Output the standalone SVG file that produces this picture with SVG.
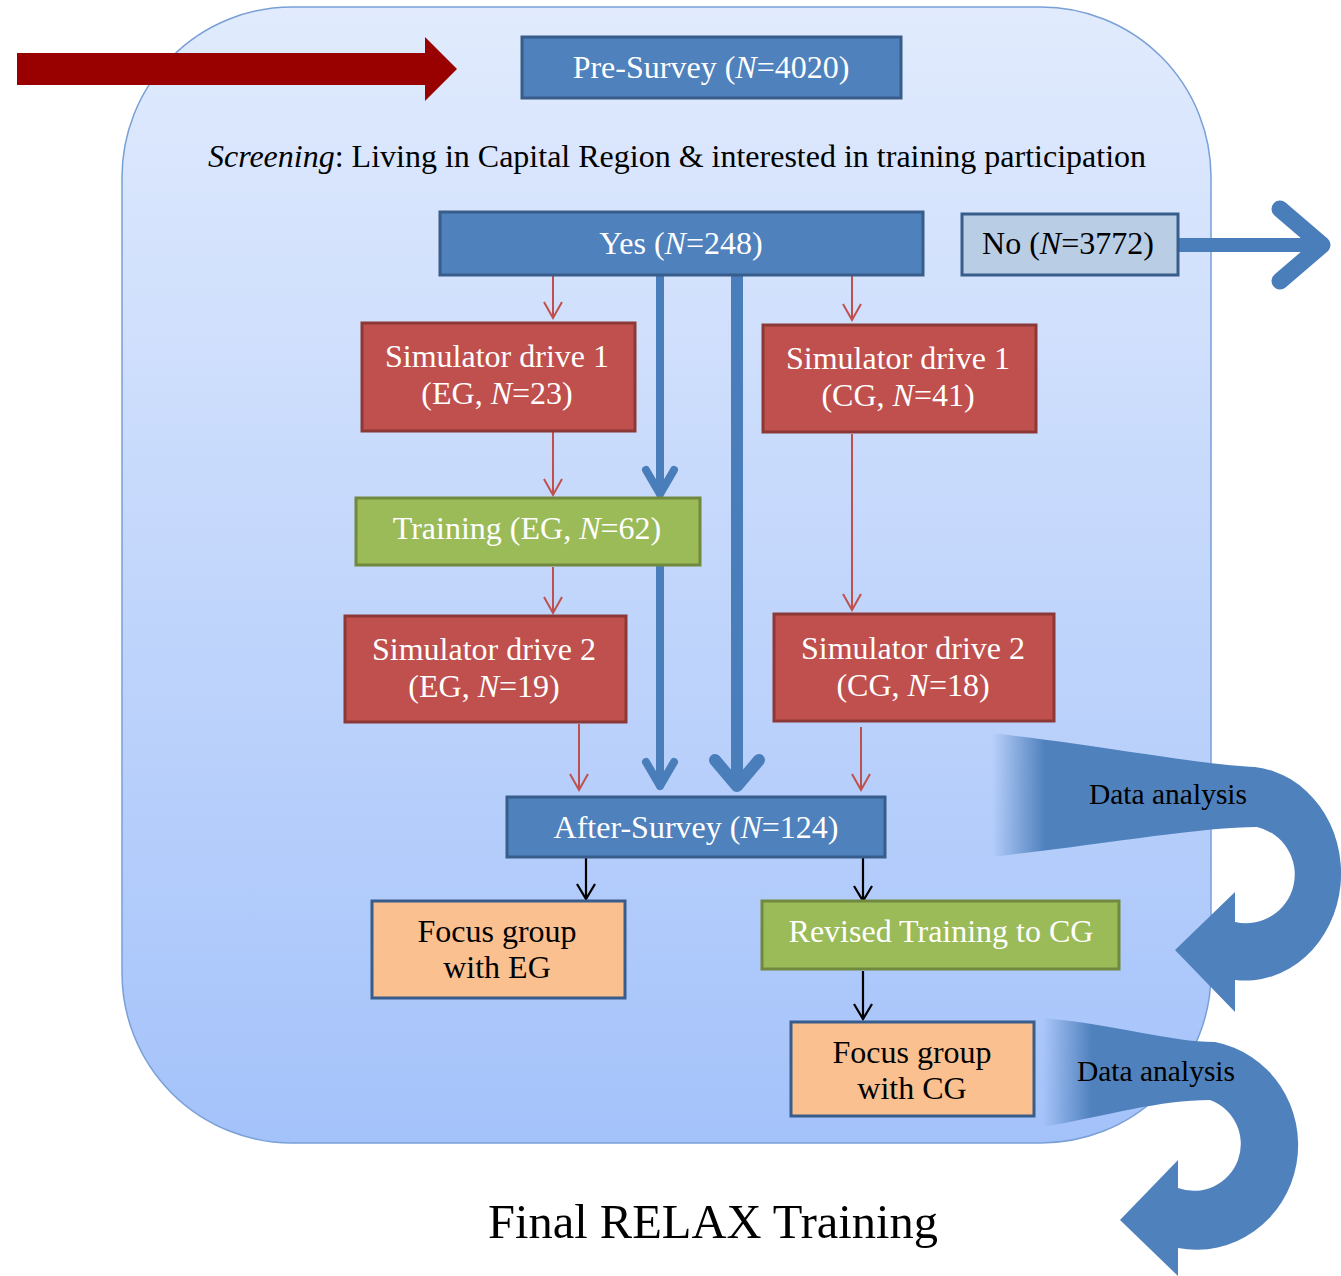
<svg xmlns="http://www.w3.org/2000/svg" width="1341" height="1276" viewBox="0 0 1341 1276">
<defs>
<linearGradient id="bg" x1="0" y1="0" x2="0" y2="1">
<stop offset="0" stop-color="#e1ebfd"/>
<stop offset="1" stop-color="#a4c2fa"/>
</linearGradient>
<linearGradient id="band1" gradientUnits="userSpaceOnUse" x1="992" y1="0" x2="1045" y2="0">
<stop offset="0" stop-color="#4f81bd" stop-opacity="0"/>
<stop offset="1" stop-color="#4f81bd"/>
</linearGradient>
<linearGradient id="band2" gradientUnits="userSpaceOnUse" x1="1043" y1="0" x2="1092" y2="0">
<stop offset="0" stop-color="#4f81bd" stop-opacity="0"/>
<stop offset="1" stop-color="#4f81bd"/>
</linearGradient>
</defs>
<style>
text{font-family:"Liberation Serif","Times New Roman",serif;font-size:32px;text-anchor:middle}
.w{fill:#ffffff}
.k{fill:#000000}
.i{font-style:italic}
.blue{fill:#4f81bd;stroke:#385d8a;stroke-width:3}
.red{fill:#c0504d;stroke:#8c3836;stroke-width:3}
.green{fill:#9bbb59;stroke:#71893f;stroke-width:3}
.orange{fill:#fac090;stroke:#385d8a;stroke-width:3}
.light{fill:#b9cde5;stroke:#385d8a;stroke-width:3}
.ra{fill:none;stroke:#c0504d;stroke-width:2}
.ka{fill:none;stroke:#000000;stroke-width:2.2}
.ba{fill:none;stroke:#4a7ebb;stroke-linecap:round;stroke-linejoin:round}
.da{font-size:29.5px;fill:#000000}
</style>
<rect x="122" y="7" width="1089" height="1136" rx="170" ry="170" fill="url(#bg)" stroke="#79a0d6" stroke-width="1.5"/>
<g id="connectors">
<path d="M17,53 H425 V37 L457,69 L425,101 V85 H17 Z" fill="#990000"/>
<path class="ra" d="M553,276 V318 M544,302 L553,318 L562,302"/>
<path class="ra" d="M852,276 V320 M843,304 L852,320 L861,304"/>
<path class="ra" d="M553,432 V495 M544,479 L553,495 L562,479"/>
<path class="ra" d="M553,567 V613 M544,597 L553,613 L562,597"/>
<path class="ra" d="M852,434 V610 M843,594 L852,610 L861,594"/>
<path class="ra" d="M579,724 V790 M570,774 L579,790 L588,774"/>
<path class="ra" d="M861,727 V790 M852,774 L861,790 L870,774"/>
<path class="ba" stroke-width="8" d="M660,276 V494 M646,470 L660,494 L674,470"/>
<path class="ba" stroke-width="8" d="M660,567 V786 M646,762 L660,786 L674,762"/>
<path class="ba" stroke-width="12" d="M737,276 V786 M715,760 L737,786 L759,760"/>
<path class="ka" d="M586,858 V899 M577,884 L586,899 L595,884"/>
<path class="ka" d="M863,858 V901 M854,886 L863,901 L872,886"/>
<path class="ka" d="M863,971 V1019 M854,1004 L863,1019 L872,1004"/>
<path d="M1179,238 H1318 V252 H1179 Z" fill="#4a7ebb"/>
<path class="ba" stroke-width="17" d="M1280,209 L1322,245 L1280,281"/>
<path d="M990,733 C1100,745 1200,765 1255,767 A96 107 0 0 1 1235,980 L1235,1012 L1175,950 L1235,892 L1235,922 A48 48 0 0 0 1257,827 C1200,827 1100,845 990,857 Z" fill="url(#band1)"/>
<path d="M1043,1018 C1120,1025 1170,1042 1215,1042 A100 103 0 0 1 1178,1248 L1178,1276 L1120,1220 L1178,1160 L1178,1188 A44 44 0 0 0 1210,1100 C1160,1100 1110,1115 1043,1127 Z" fill="url(#band2)"/>
<text class="da" x="1168" y="804">Data analysis</text>
<text class="da" x="1156" y="1081">Data analysis</text>
</g>
<g id="pre-survey">
<rect class="blue" x="522" y="37" width="379" height="61"/>
<text class="w" x="711" y="78">Pre-Survey (<tspan class="i">N</tspan>=4020)</text>
</g>
<g id="screening">
<text class="k" x="677" y="167"><tspan class="i">Screening</tspan>: Living in Capital Region &amp; interested in training participation</text>
</g>
<g id="yes">
<rect class="blue" x="440" y="212" width="483" height="63"/>
<text class="w" x="681" y="254">Yes (<tspan class="i">N</tspan>=248)</text>
</g>
<g id="no">
<rect class="light" x="962" y="214" width="216" height="61"/>
<text class="k" x="1068" y="254">No (<tspan class="i">N</tspan>=3772)</text>
</g>
<g id="sim1-eg">
<rect class="red" x="362" y="323" width="273" height="108"/>
<text class="w" x="497" y="367">Simulator drive 1</text>
<text class="w" x="497" y="404">(EG, <tspan class="i">N</tspan>=23)</text>
</g>
<g id="sim1-cg">
<rect class="red" x="763" y="325" width="273" height="107"/>
<text class="w" x="898" y="369">Simulator drive 1</text>
<text class="w" x="898" y="406">(CG, <tspan class="i">N</tspan>=41)</text>
</g>
<g id="training-eg">
<rect class="green" x="356" y="498" width="344" height="67"/>
<text class="w" x="527" y="539">Training (EG, <tspan class="i">N</tspan>=62)</text>
</g>
<g id="sim2-eg">
<rect class="red" x="345" y="616" width="281" height="106"/>
<text class="w" x="484" y="660">Simulator drive 2</text>
<text class="w" x="484" y="697">(EG, <tspan class="i">N</tspan>=19)</text>
</g>
<g id="sim2-cg">
<rect class="red" x="774" y="614" width="280" height="107"/>
<text class="w" x="913" y="659">Simulator drive 2</text>
<text class="w" x="913" y="696">(CG, <tspan class="i">N</tspan>=18)</text>
</g>
<g id="after-survey">
<rect class="blue" x="507" y="797" width="378" height="60"/>
<text class="w" x="696" y="838">After-Survey (<tspan class="i">N</tspan>=124)</text>
</g>
<g id="focus-eg">
<rect class="orange" x="372" y="901" width="253" height="97"/>
<text class="k" x="497" y="942">Focus group</text>
<text class="k" x="497" y="978">with EG</text>
</g>
<g id="revised-training">
<rect class="green" x="762" y="901" width="357" height="68"/>
<text class="w" x="941" y="942">Revised Training to CG</text>
</g>
<g id="focus-cg">
<rect class="orange" x="791" y="1022" width="243" height="94"/>
<text class="k" x="912" y="1063">Focus group</text>
<text class="k" x="912" y="1099">with CG</text>
</g>
<g id="final">
<text class="k" x="713" y="1238" style="font-size:48.5px">Final RELAX Training</text>
</g>
</svg>
